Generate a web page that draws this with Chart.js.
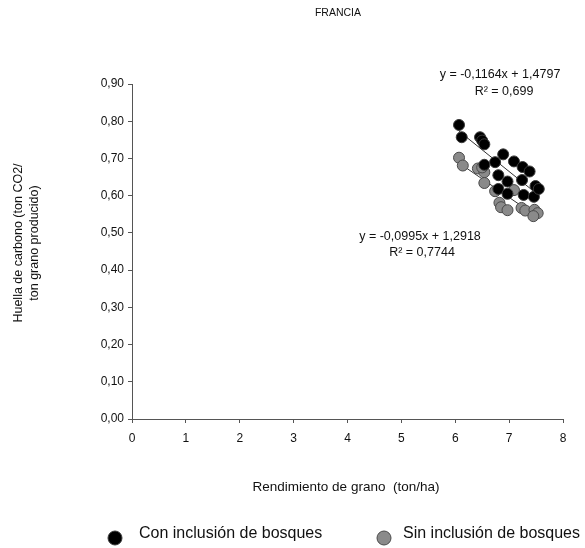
<!DOCTYPE html>
<html>
<head>
<meta charset="utf-8">
<script src="https://cdn.jsdelivr.net/npm/chart.js@4/dist/chart.umd.min.js"></script>
<style>
  html, body { margin: 0; padding: 0; background: #fff; }
  #wrap { width: 585px; height: 548px; }
</style>
</head>
<body>
<div id="wrap"><canvas id="c" width="585" height="548"></canvas></div>
<script>
// Rendimiento (ton/ha) y huella de carbono (ton CO2 / ton grano), Francia
const conBosquesX = [6.07, 6.12, 6.46, 6.50, 6.54, 6.54, 6.74, 6.89, 6.80, 6.80, 6.97, 6.97, 7.09, 7.25, 7.38, 7.24, 7.27, 7.46, 7.49, 7.55];
const conBosquesY = [0.790, 0.757, 0.757, 0.748, 0.738, 0.683, 0.690, 0.711, 0.655, 0.618, 0.638, 0.605, 0.692, 0.677, 0.665, 0.642, 0.602, 0.597, 0.626, 0.618];
const sinBosquesX = [6.07, 6.14, 6.42, 6.54, 6.50, 6.54, 6.74, 7.09, 6.82, 6.85, 6.97, 7.23, 7.30, 7.47, 7.53, 7.45];
const sinBosquesY = [0.702, 0.681, 0.673, 0.663, 0.676, 0.634, 0.612, 0.615, 0.581, 0.569, 0.561, 0.567, 0.560, 0.562, 0.553, 0.545];

// Ajustes lineales publicados
const ajusteCon = { pendiente: -0.1164, ordenada: 1.4797, r2: '0,699' };
const ajusteSin = { pendiente: -0.0995, ordenada: 1.2918, r2: '0,7744' };

const seriesNombres = ['Con inclusión de bosques', 'Sin inclusión de bosques'];
const xTicks = [0, 1, 2, 3, 4, 5, 6, 7, 8];
const yTicks = [0, 0.1, 0.2, 0.3, 0.4, 0.5, 0.6, 0.7, 0.8, 0.9];

const FONT = '"Liberation Sans", Arial, sans-serif';

function pares(xs, ys) { return xs.map((x, i) => ({ x: x, y: ys[i] })); }
function recta(xs, aj) {
  const x0 = Math.min(...xs), x1 = Math.max(...xs);
  return [{ x: x0, y: aj.ordenada + aj.pendiente * x0 }, { x: x1, y: aj.ordenada + aj.pendiente * x1 }];
}
function fmt(v, d) { return v.toFixed(d).replace('.', ','); }
function ecuacion(aj) {
  return 'y = -' + fmt(Math.abs(aj.pendiente), 4) + 'x + ' + fmt(aj.ordenada, 4);
}

const colores = [
  { fill: '#000000', border: '#3a3a3a' },
  { fill: '#8a8a8a', border: '#4a4a4a' }
];

// Textos fijos: título, títulos de ejes, ecuaciones y leyenda
const textos = {
  id: 'textos',
  afterDraw(chart) {
    const ctx = chart.ctx;
    ctx.save();
    ctx.fillStyle = '#111';
    ctx.textBaseline = 'middle';

    ctx.font = '10.5px ' + FONT;
    ctx.textAlign = 'center';
    ctx.fillText('FRANCIA', 338, 13);

    ctx.font = '13.5px ' + FONT;
    ctx.fillText('Rendimiento de grano  (ton/ha)', 346, 487);

    ctx.save();
    ctx.rotate(-Math.PI / 2);
    ctx.font = '12.5px ' + FONT;
    ctx.fillText('Huella de carbono (ton CO2/', -243, 19);
    ctx.fillText('ton grano producido)', -243, 35);
    ctx.restore();

    ctx.font = '12.5px ' + FONT;
    ctx.textAlign = 'center';
    ctx.fillText(ecuacion(ajusteCon), 500, 75);
    ctx.fillText('R² = ' + ajusteCon.r2, 504, 92);
    ctx.fillText(ecuacion(ajusteSin), 420, 237);
    ctx.fillText('R² = ' + ajusteSin.r2, 422, 253);

    // leyenda
    const items = [
      { cx: 115, tx: 139 },
      { cx: 384, tx: 403 }
    ];
    ctx.font = '16px ' + FONT;
    ctx.textAlign = 'left';
    items.forEach((it, i) => {
      ctx.beginPath();
      ctx.arc(it.cx, 538, 7, 0, Math.PI * 2);
      ctx.fillStyle = colores[i].fill;
      ctx.fill();
      ctx.lineWidth = 1;
      ctx.strokeStyle = colores[i].border;
      ctx.stroke();
      ctx.fillStyle = '#111';
      ctx.fillText(seriesNombres[i], it.tx, 534);
    });
    ctx.restore();
  }
};

new Chart(document.getElementById('c'), {
  type: 'scatter',
  data: {
    datasets: [
      {
        label: 'Tendencia con bosques', type: 'line', data: recta(conBosquesX, ajusteCon),
        borderColor: '#333', borderWidth: 1, pointRadius: 0, fill: false, order: 3
      },
      {
        label: 'Tendencia sin bosques', type: 'line', data: recta(sinBosquesX, ajusteSin),
        borderColor: '#333', borderWidth: 1, pointRadius: 0, fill: false, order: 3
      },
      {
        label: seriesNombres[1], data: pares(sinBosquesX, sinBosquesY),
        backgroundColor: colores[1].fill, borderColor: colores[1].border, borderWidth: 1,
        pointRadius: 5.5, order: 2
      },
      {
        label: seriesNombres[0], data: pares(conBosquesX, conBosquesY),
        backgroundColor: colores[0].fill, borderColor: colores[0].border, borderWidth: 1,
        pointRadius: 5.5, order: 1
      }
    ]
  },
  options: {
    responsive: false,
    animation: false,
    layout: { padding: { left: 0, top: 84, right: 22, bottom: 99 } },
    plugins: { legend: { display: false }, tooltip: { enabled: false }, title: { display: false } },
    scales: {
      x: {
        type: 'linear', min: 0, max: 8,
        afterFit(s) { s.height = 30; },
        afterBuildTicks(s) { s.ticks = xTicks.map(v => ({ value: v })); },
        grid: { display: true, drawOnChartArea: false, drawTicks: true, tickLength: 4, color: '#555' },
        border: { display: true, color: '#555', width: 1 },
        ticks: { font: { family: FONT, size: 12 }, color: '#111', padding: 8, maxRotation: 0 }
      },
      y: {
        type: 'linear', min: 0, max: 0.9,
        afterFit(s) { s.width = 132; },
        afterBuildTicks(s) { s.ticks = yTicks.map(v => ({ value: v })); },
        grid: { display: true, drawOnChartArea: false, drawTicks: true, tickLength: 4, color: '#555' },
        border: { display: true, color: '#555', width: 1 },
        ticks: {
          font: { family: FONT, size: 12 }, color: '#111', padding: 4,
          callback: v => fmt(v, 2)
        }
      }
    }
  },
  plugins: [textos]
});
</script>
</body>
</html>
